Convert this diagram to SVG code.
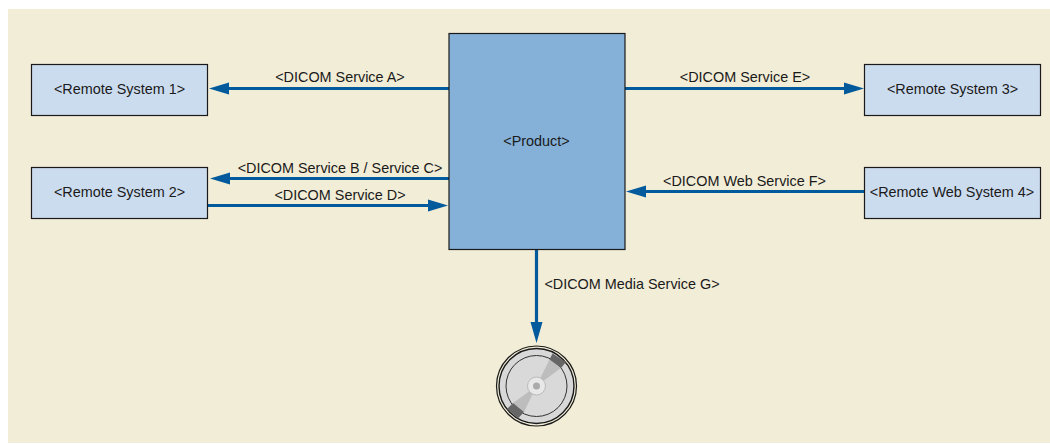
<svg xmlns="http://www.w3.org/2000/svg" width="1050" height="444" viewBox="0 0 1050 444">
<style>
text{font-family:"Liberation Sans",Arial,sans-serif;font-size:14.4px;fill:#1a1a1a;text-anchor:middle}
.n{fill:#ccdcef;stroke:#1a1a1a;stroke-width:1.2}
.c{stroke:#005a9c;stroke-width:3.2;fill:none}
.h{fill:#005a9c}
</style>
<rect width="1050" height="444" fill="#fff"/>
<rect x="8" y="9" width="1042" height="434" fill="#f2edd7"/>
<g id="connectors">
<path class="c" d="M449 88.500H225"/><path class="h" d="M209 88.500L229 82.500V94.500Z"/>
<path class="c" d="M449 178.500H226"/><path class="h" d="M210 178.500L230 172.500V184.500Z"/>
<path class="c" d="M208 205.500H432"/><path class="h" d="M448 205.500L428 199.500V211.500Z"/>
<path class="c" d="M625 88.500H848"/><path class="h" d="M864 88.500L844 82.500V94.500Z"/>
<path class="c" d="M864 191.500H642"/><path class="h" d="M626 191.500L646 185.500V197.500Z"/>
<path class="c" d="M536.500 249V326"/><path class="h" d="M536.500 343L530.500 322H542.500Z"/>
</g>
<g id="label-a"><text x="340" y="82">&lt;DICOM Service A&gt;</text></g>
<g id="label-bc"><text x="340" y="173">&lt;DICOM Service B / Service C&gt;</text></g>
<g id="label-d"><text x="340" y="200">&lt;DICOM Service D&gt;</text></g>
<g id="label-e"><text x="745" y="82">&lt;DICOM Service E&gt;</text></g>
<g id="label-f"><text x="744.500" y="186">&lt;DICOM Web Service F&gt;</text></g>
<g id="label-g"><text x="632" y="289">&lt;DICOM Media Service G&gt;</text></g>
<g id="product"><rect x="449" y="33.500" width="176" height="216" fill="#85b0d8" stroke="#1a1a1a" stroke-width="1.2"/><text x="536.500" y="146">&lt;Product&gt;</text></g>
<g id="remote1"><rect class="n" x="31.500" y="64.500" width="176" height="51"/><text x="119.500" y="94">&lt;Remote System 1&gt;</text></g>
<g id="remote2"><rect class="n" x="31.500" y="167.500" width="176" height="51"/><text x="119.500" y="197">&lt;Remote System 2&gt;</text></g>
<g id="remote3"><rect class="n" x="864.500" y="64.500" width="176" height="51"/><text x="952.500" y="94">&lt;Remote System 3&gt;</text></g>
<g id="remote4"><rect class="n" x="864.500" y="167.500" width="176" height="51"/><text x="952" y="197">&lt;Remote Web System 4&gt;</text></g>
<g id="media">
<circle cx="536.500" cy="386" r="40" fill="#f2edd7" stroke="#1a1a1a" stroke-width="1.2"/>
<circle cx="536.500" cy="386" r="37.500" fill="#d8d8d8" stroke="#1a1a1a" stroke-width="1.4"/>
<circle cx="536.500" cy="386" r="30.500" fill="#d9d9d9" stroke="#333" stroke-width="1"/>
<path d="M549.500 359.500L561 368L536.500 386Z" fill="#bdbdbd"/>
<path d="M513 403L524 412L536.500 386Z" fill="#bdbdbd"/>
<path d="M552.500 353.500L566 362L561 368L549.500 359.500Z" fill="#666"/>
<path d="M507 409L513 403L524 412L518 418.500Z" fill="#666"/>
<circle cx="536.500" cy="386" r="9" fill="#e8e8e8" stroke="#bbb"/>
<circle cx="536.500" cy="386" r="3.500" fill="#aaa"/>
</g>
</svg>
